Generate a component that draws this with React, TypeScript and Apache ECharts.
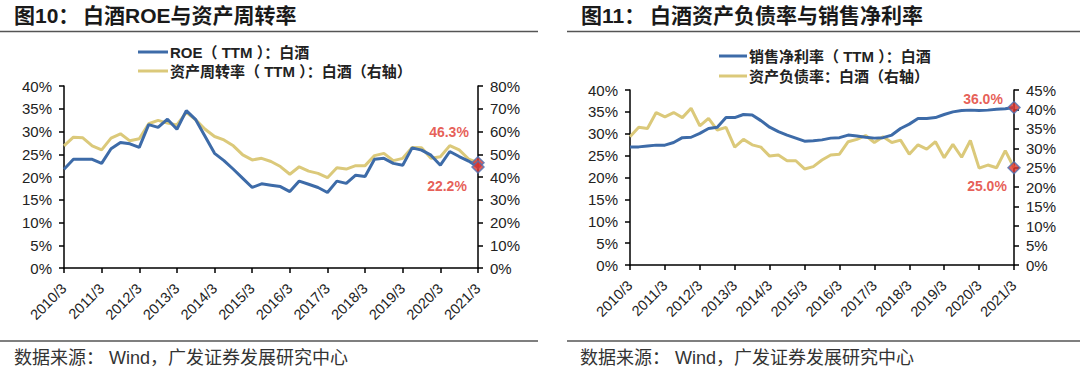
import React, { useEffect, useRef } from "react";
import * as echarts from "echarts";

const YEARS = [2010, 2011, 2012, 2013, 2014, 2015, 2016, 2017, 2018, 2019, 2020, 2021];
const MONTHS = [3, 6, 9, 12];
const quarters: string[] = [];
YEARS.forEach((y) => MONTHS.forEach((m) => { if (y < 2021 || m === 3) quarters.push(`${y}/${m}`); }));

// 图10
const roe = [21.7, 23.9, 23.9, 23.9, 23.0, 26.2, 27.6, 27.3, 26.5, 31.5, 30.9, 32.7, 30.5, 34.6, 32.6, 28.9, 25.2, 23.6, 21.7, 19.7, 17.7, 18.5, 18.2, 17.9, 16.8, 19.1, 18.4, 17.7, 16.6, 19.1, 18.6, 20.4, 20.1, 23.9, 24.1, 23.0, 22.6, 26.4, 25.9, 24.8, 22.6, 25.6, 24.5, 23.5, 22.2];
const turnover = [53.7, 57.5, 57.2, 53.7, 51.9, 57.1, 59.0, 55.9, 56.8, 63.4, 64.9, 63.7, 62.9, 68.4, 65.1, 61.0, 57.8, 56.3, 53.7, 49.7, 47.5, 48.2, 46.8, 44.6, 41.2, 44.5, 42.6, 41.6, 39.7, 44.1, 43.5, 45.0, 45.0, 49.4, 50.4, 47.2, 48.2, 53.0, 52.9, 48.2, 48.9, 53.8, 51.9, 47.9, 46.3];
// 图11
const netMargin = [27.0, 27.0, 27.2, 27.4, 27.4, 28.0, 29.1, 29.2, 30.1, 31.2, 31.5, 33.7, 33.7, 34.4, 34.3, 33.0, 31.5, 30.5, 29.7, 29.0, 28.3, 28.4, 28.6, 29.0, 29.1, 29.7, 29.5, 29.2, 29.0, 29.1, 29.7, 31.2, 32.2, 33.5, 33.5, 33.7, 34.4, 35.0, 35.3, 35.4, 35.3, 35.4, 35.6, 35.7, 36.0];
const debtRatio = [33.0, 35.4, 35.1, 39.2, 38.1, 39.2, 37.9, 40.3, 35.8, 37.7, 34.7, 35.4, 30.3, 32.3, 30.9, 30.3, 28.0, 28.3, 26.8, 26.8, 24.7, 25.3, 27.0, 28.3, 28.5, 31.7, 32.3, 33.3, 31.5, 33.0, 31.5, 32.1, 28.5, 30.9, 29.8, 31.7, 27.6, 31.0, 27.7, 32.0, 24.9, 25.7, 25.0, 29.4, 25.0];

const BLUE = "#3D6BA8";
const YELLOW = "#DBC97A";
const RED = "#E0352B";
const FONT = "'Liberation Sans', Arial, 'Noto Sans CJK SC', sans-serif";

const xAxisCfg = (gridIndex: number) => ({
  type: "category",
  gridIndex,
  data: quarters,
  boundaryGap: false,
  axisLine: { show: true, lineStyle: { color: "#000", width: 1.5 } },
  axisTick: { show: true, interval: 3, length: 5, lineStyle: { color: "#000", width: 1.5 } },
  axisLabel: { interval: 3, rotate: 45, fontSize: 14.5, color: "#222", fontFamily: FONT, margin: 18 },
  splitLine: { show: false },
});

const yAxisCfg = (gridIndex: number, position: string, max: number, interval: number) => ({
  type: "value",
  gridIndex,
  position,
  min: 0,
  max,
  interval,
  axisLine: { show: true, lineStyle: { color: "#000", width: 1.5 } },
  axisTick: { show: true, length: 5, lineStyle: { color: "#000", width: 1.5 } },
  axisLabel: { formatter: "{value}%", fontSize: 15, color: "#222", fontFamily: FONT, margin: 12 },
  splitLine: { show: false },
});

const lineSeries = (name: string, data: number[], color: string, xi: number, yi: number) => ({
  name,
  type: "line",
  xAxisIndex: xi,
  yAxisIndex: yi,
  data,
  symbol: "none",
  lineStyle: { color, width: 3 },
  itemStyle: { color },
  z: color === BLUE ? 3 : 2,
});

const endMarker = (value: number, xi: number, yi: number, offset: number[]) => ({
  type: "scatter",
  xAxisIndex: xi,
  yAxisIndex: yi,
  data: [[quarters[quarters.length - 1], value]],
  symbol: "diamond",
  symbolSize: 12,
  itemStyle: { color: RED, borderColor: "#4F72B3", borderWidth: 1.5 },
  z: 5,
  label: {
    show: true,
    position: "inside",
    offset,
    formatter: `${value.toFixed(1)}%`,
    color: RED,
    fontSize: 14,
    fontWeight: "bold",
    fontFamily: FONT,
  },
});

const txt = (x: number, y: number, text: string, size: number, weight: string, color = "#1a1a1a") => ({
  type: "text",
  x,
  y,
  style: {
    text,
    fill: color,
    fontSize: size,
    fontWeight: weight,
    fontFamily: FONT,
    textVerticalAlign: "middle",
    verticalAlign: "middle",
    textAlign: "left",
    align: "left",
  },
});

const hline = (x1: number, x2: number, y: number, color: string, w: number) => ({
  type: "line",
  shape: { x1, y1: y, x2, y2: y },
  style: { stroke: color, lineWidth: w },
});

export default function App() {
  const ref = useRef<HTMLDivElement>(null);
  useEffect(() => {
    if (!ref.current) return;
    const chart = echarts.init(ref.current, undefined, { renderer: "svg" });
    chart.setOption({
      animation: false,
      backgroundColor: "#fff",
      grid: [
        { left: 64, right: 602, top: 86, bottom: 100 },
        { left: 630, right: 66, top: 90, bottom: 103 },
      ],
      xAxis: [xAxisCfg(0), xAxisCfg(1)],
      yAxis: [
        yAxisCfg(0, "left", 40, 5),
        yAxisCfg(0, "right", 80, 10),
        yAxisCfg(1, "left", 40, 5),
        yAxisCfg(1, "right", 45, 5),
      ],
      series: [
        lineSeries("资产周转率（TTM）：白酒（右轴）", turnover, YELLOW, 0, 1),
        lineSeries("ROE（TTM）：白酒", roe, BLUE, 0, 0),
        lineSeries("资产负债率：白酒（右轴）", debtRatio, YELLOW, 1, 3),
        lineSeries("销售净利率（TTM）：白酒", netMargin, BLUE, 1, 2),
        endMarker(turnover[turnover.length - 1], 0, 1, [-29, -31]),
        endMarker(roe[roe.length - 1], 0, 0, [-31, 19]),
        endMarker(netMargin[netMargin.length - 1], 1, 2, [-31, -9]),
        endMarker(debtRatio[debtRatio.length - 1], 1, 3, [-27, 18]),
      ],
      graphic: [
        txt(14, 15, "图10：", 21, "bold"),
        txt(83, 15, "白酒ROE与资产周转率", 21, "bold"),
        txt(581, 15, "图11：", 21, "bold"),
        txt(650, 15, "白酒资产负债率与销售净利率", 21, "bold"),
        hline(0, 538, 31.5, "#555", 1.5),
        hline(567, 1080, 31.5, "#555", 1.5),
        // legends
        hline(138, 168, 52, BLUE, 3),
        txt(170, 52, "ROE（ TTM ）：白酒", 15, "bold", "#222"),
        hline(138, 168, 71, YELLOW, 3),
        txt(170, 71, "资产周转率（ TTM ）：白酒（右轴）", 15, "bold", "#222"),
        hline(719, 747, 56, BLUE, 3),
        txt(749, 56, "销售净利率（ TTM ）：白酒", 15, "bold", "#222"),
        hline(719, 747, 76, YELLOW, 3),
        txt(749, 76, "资产负债率：白酒（右轴）", 15, "bold", "#222"),
        // footers
        hline(0, 538, 341, "#555", 1.5),
        hline(567, 1080, 341, "#555", 1.5),
        txt(14, 358, "数据来源： Wind，广发证券发展研究中心", 18, "normal", "#333"),
        txt(580, 358, "数据来源： Wind，广发证券发展研究中心", 18, "normal", "#333"),
      ],
    });
    return () => chart.dispose();
  }, []);
  return (
    <div
      ref={ref}
      style={{ position: "fixed", left: 0, top: 0, width: 1080, height: 368, background: "#fff" }}
    />
  );
}
